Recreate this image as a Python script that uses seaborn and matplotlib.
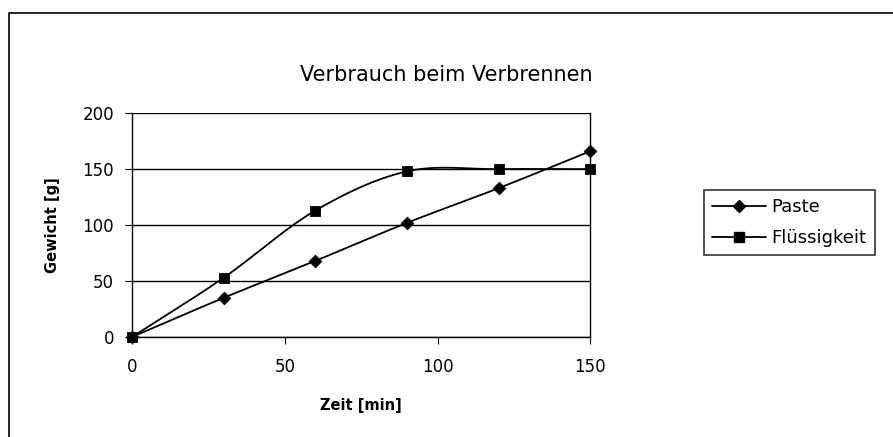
import numpy as np
import pandas as pd
import matplotlib
matplotlib.use("Agg")
import matplotlib.pyplot as plt
import seaborn as sns
from matplotlib.patches import Rectangle

# data
zeit = [0, 30, 60, 90, 120, 150]
paste = [0, 35, 68, 102, 133, 166]
fluessigkeit = [0, 53, 113, 148, 150, 150]

sns.set_style("white")
plt.rcParams['font.family'] = ['DejaVu Sans']
plt.rcParams['text.color'] = 'black'
plt.rcParams['axes.labelcolor'] = 'black'
plt.rcParams['xtick.color'] = 'black'
plt.rcParams['ytick.color'] = 'black'


def smooth(x, y, n=30):
    # Catmull-Rom curve between points, like Excel's smoothed lines
    x = np.asarray(x, float)
    y = np.asarray(y, float)
    px = np.concatenate([[2 * x[0] - x[1]], x, [2 * x[-1] - x[-2]]])
    py = np.concatenate([[2 * y[0] - y[1]], y, [2 * y[-1] - y[-2]]])
    xs, ys = [], []
    t = np.linspace(0, 1, n)
    for i in range(1, len(px) - 2):
        for p, out in ((px, xs), (py, ys)):
            p0, p1, p2, p3 = p[i - 1], p[i], p[i + 1], p[i + 2]
            out.append(0.5 * ((2 * p1) + (-p0 + p2) * t
                              + (2 * p0 - 5 * p1 + 4 * p2 - p3) * t ** 2
                              + (-p0 + 3 * p1 - 3 * p2 + p3) * t ** 3))
    return np.concatenate(xs), np.concatenate(ys)


fig = plt.figure(figsize=(8.93, 4.37), dpi=100)
ax = fig.add_axes([0.148, 0.229, 0.513, 0.512])

df = pd.DataFrame({"Zeit": zeit, "Paste": paste, "Flüssigkeit": fluessigkeit})
for col, marker, ms in (("Paste", "D", 6.5), ("Flüssigkeit", "s", 7.5)):
    sx, sy = smooth(df["Zeit"], df[col])
    sns.lineplot(x=sx, y=sy, ax=ax, color="black", lw=1.3, sort=False)
    sns.scatterplot(x=df["Zeit"], y=df[col], ax=ax, marker=marker, s=ms ** 2,
                    color="black", edgecolor="black", zorder=5, clip_on=False)
    ax.plot([], [], color="black", marker=marker, ms=ms, lw=1.3, label=col)

ax.set_xlim(0, 150)
ax.set_ylim(0, 200)
ax.set_xticks([0, 50, 100, 150])
ax.set_yticks([0, 50, 100, 150, 200])
ax.yaxis.grid(True, color="black", lw=1)
ax.xaxis.grid(False)
for side in ("top", "left", "right", "bottom"):
    ax.spines[side].set_color("black")
    ax.spines[side].set_linewidth(1)
ax.spines['top'].set_visible(False)
ax.tick_params(axis='x', direction='out', length=5, color="black", pad=10,
               bottom=True, labelsize=12)
ax.tick_params(axis='y', direction='out', length=5, color="black", pad=8,
               left=True, labelsize=12)

ax.set_xlabel("Zeit [min]", fontsize=10.5, fontweight="bold", labelpad=16)
ax.set_ylabel("Gewicht [g]", fontsize=10.5, fontweight="bold", labelpad=16)
fig.text(0.5, 0.828, "Verbrauch beim Verbrennen", ha="center", va="center",
         fontsize=15)

leg = ax.legend(loc="upper left", bbox_to_anchor=(0.788, 0.565),
                bbox_transform=fig.transFigure, frameon=True, fancybox=False,
                edgecolor="black", fontsize=13, handlelength=3.0,
                borderpad=0.45, labelspacing=0.7, handletextpad=0.3,
                borderaxespad=0)
leg.get_frame().set_linewidth(1.2)

# outer chart frame (right and bottom edges are cut off in the scan)
fig.patches.append(Rectangle((9 / 893, -0.05), 1.0, 0.05 + (437 - 13) / 437,
                             transform=fig.transFigure, fill=False,
                             edgecolor="black", lw=1.2))

fig.savefig("out.png", dpi=100)
